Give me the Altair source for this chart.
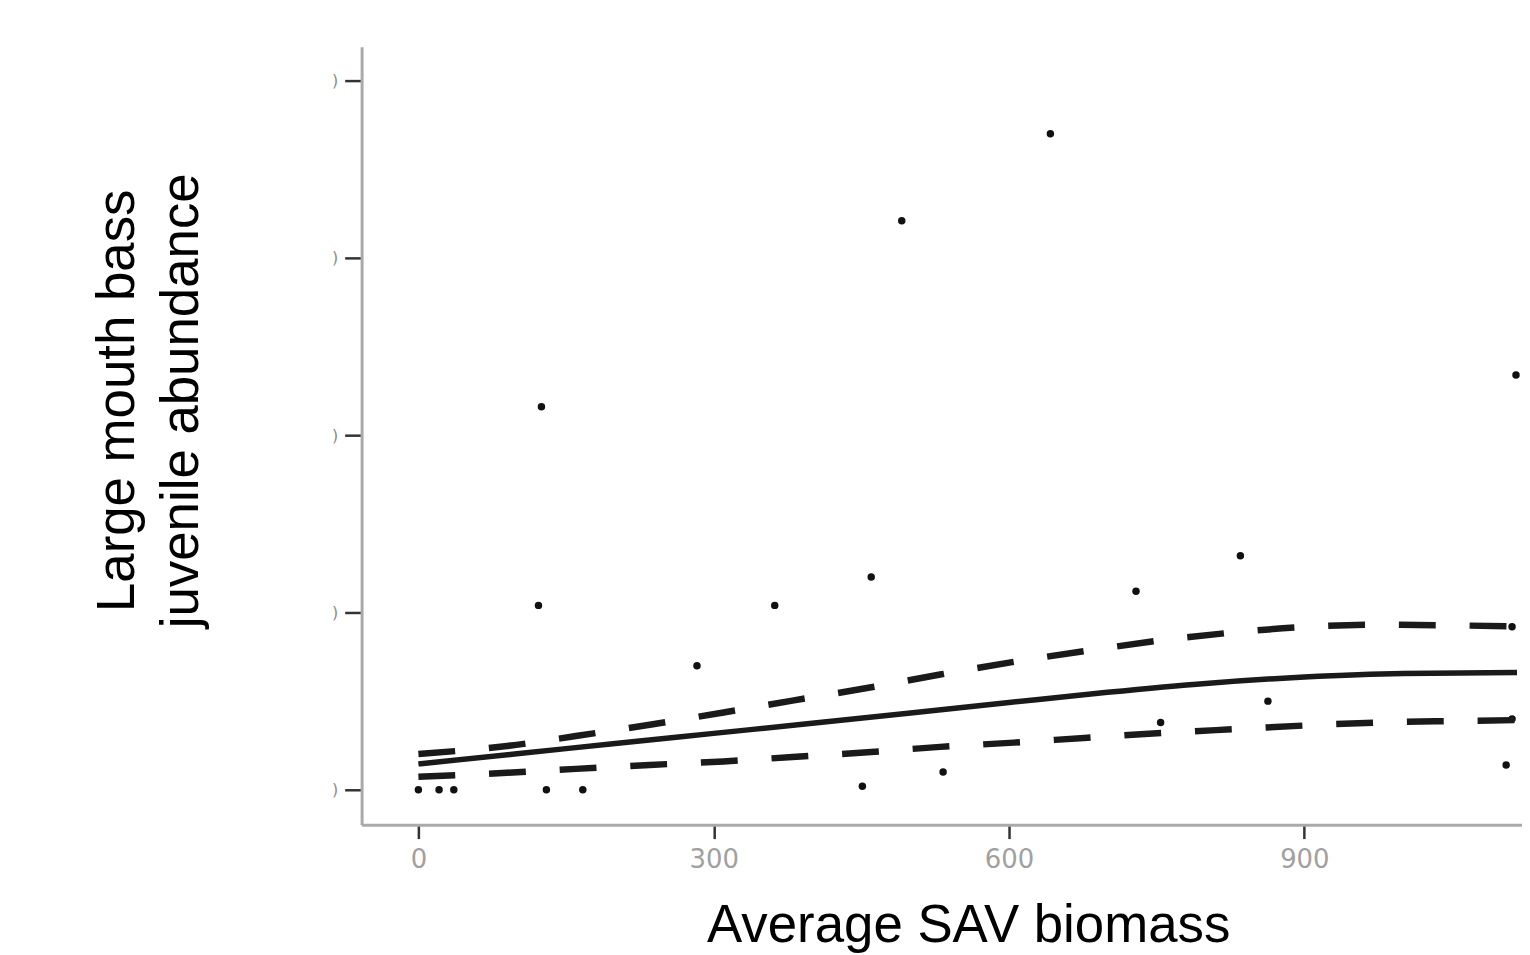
import altair as alt
import pandas as pd

# Scatter points (Average SAV biomass, juvenile abundance)
pt_x = [0, 21, 36, 130, 167, 125, 122, 283, 362, 460, 491, 451, 533, 642, 729, 754, 835, 863, 1105, 1111, 1111, 1115]
pt_y = [0, 0, 0, 0, 0, 21.6, 10.4, 7.0, 10.4, 12.0, 32.1, 0.2, 1.0, 37.0, 11.2, 3.8, 13.2, 5.0, 1.4, 9.2, 4.0, 23.4]

# Fitted curve
fit_x = [0, 100, 200, 300, 400, 500, 600, 700, 800, 900, 1000, 1116]
fit_y = [1.46, 2.03, 2.61, 3.18, 3.75, 4.33, 4.92, 5.50, 6.00, 6.36, 6.56, 6.61]

# Confidence band
band_x = [0, 90, 160, 235, 310, 380, 460, 530, 605, 680, 755, 833, 906, 979, 1054, 1115]
upper_y = [2.02, 2.47, 3.03, 3.67, 4.36, 5.03, 5.78, 6.50, 7.22, 7.85, 8.43, 8.90, 9.20, 9.31, 9.27, 9.21]
lower_y = [0.73, 0.96, 1.18, 1.40, 1.60, 1.85, 2.13, 2.42, 2.66, 2.94, 3.20, 3.43, 3.64, 3.80, 3.88, 3.93]

x_ticks = [0, 300, 600, 900]
y_ticks = [0, 10, 20, 30, 40]

pts = pd.DataFrame({"x": pt_x, "y": pt_y})
fit = pd.DataFrame({"x": fit_x, "fit": fit_y})
band = pd.DataFrame({"x": band_x, "upper": upper_y, "lower": lower_y})

xscale = alt.Scale(domain=[-57.7, 1121.1], nice=False, zero=False)
yscale = alt.Scale(domain=[-1.966, 41.91], nice=False, zero=False)

x_axis = alt.Axis(
    values=x_ticks, grid=False, title="Average SAV biomass",
    titleFont="Liberation Sans", titleFontSize=53, titleFontWeight="normal", titleColor="black",
    titleX=609, titleY=117, titleAlign="center", titleBaseline="alphabetic",
    labelFont="DejaVu Sans", labelFontSize=26, labelColor="#a0a0a0", labelPadding=8,
    tickSize=14, tickColor="#333333", tickWidth=2.5,
    domainColor="#aaaaaa", domainWidth=3,
)
y_axis = alt.Axis(
    values=y_ticks, grid=False, title=["Large mouth bass", "juvenile abundance"],
    titleFont="Liberation Sans", titleFontSize=53, titleFontWeight="normal", titleColor="black",
    titleAngle=270, titleX=-229, titleY=355, titleAlign="center", titleBaseline="alphabetic",
    titleLineHeight=64,
    labelExpr="')'", labelFont="DejaVu Sans", labelFontSize=16, labelColor="#8a8a8a", labelPadding=7,
    tickSize=17, tickColor="#333333", tickWidth=2.5,
    domainColor="#aaaaaa", domainWidth=3,
)

points = alt.Chart(pts).mark_circle(size=56, color="#111111", opacity=1).encode(
    x=alt.X("x:Q", scale=xscale, axis=x_axis),
    y=alt.Y("y:Q", scale=yscale, axis=y_axis),
)

fit_line = alt.Chart(fit).mark_line(color="#1a1a1a", strokeWidth=5.5, interpolate="monotone").encode(
    x=alt.X("x:Q", scale=xscale),
    y=alt.Y("fit:Q", scale=yscale),
)

band_base = alt.Chart(band).encode(x=alt.X("x:Q", scale=xscale))
upper_line = band_base.mark_line(color="#1a1a1a", strokeWidth=6.5, strokeDash=[37, 34], interpolate="monotone").encode(
    y=alt.Y("upper:Q", scale=yscale)
)
lower_line = band_base.mark_line(color="#1a1a1a", strokeWidth=6.5, strokeDash=[37, 34], interpolate="monotone").encode(
    y=alt.Y("lower:Q", scale=yscale)
)

chart = alt.layer(points, fit_line, upper_line, lower_line).properties(
    width=1165, height=781,
    autosize=alt.AutoSizeParams(type="none"),
    padding={"left": 355, "top": 37, "right": 0, "bottom": 128},
    background="white",
).configure_view(stroke=None)

chart.save("out.html", embed_options={"renderer": "svg", "actions": False})
